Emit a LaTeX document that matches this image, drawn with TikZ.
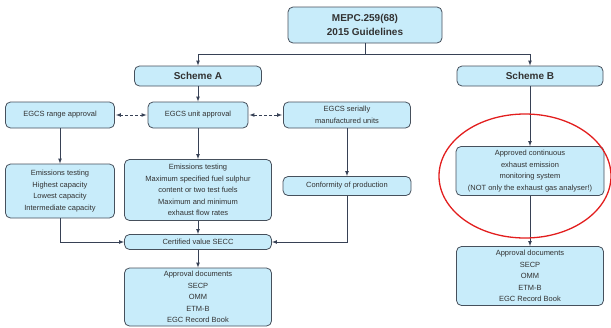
\documentclass[tikz,border=0pt]{standalone}
\usepackage{fontspec}
\setmainfont{Liberation Sans}
\usepackage{tikz}
\usetikzlibrary{arrows}
\definecolor{skyfill}{RGB}{200, 236, 250}
\definecolor{slateline}{RGB}{70, 80, 92}
\definecolor{navyline}{RGB}{55, 65, 85}
\definecolor{inkgray}{RGB}{50, 50, 50}
\definecolor{markred}{RGB}{226, 30, 30}

\begin{document}
\begin{tikzpicture}[x=1pt, y=-1pt,
        gbox/.style={draw=slateline, fill=skyfill, rounded corners=5pt, line width=0.8pt,
                     inner sep=0pt, align=center, text=inkgray,
                     font=\fontsize{7.5}{11.5}\selectfont},
        hbox/.style={gbox, font=\fontsize{10}{14}\selectfont\bfseries},
        link/.style={draw=navyline, line width=0.7pt},
        flow/.style={link, -latex},
        twin/.style={link, latex-latex, densely dashed, shorten >=1pt, shorten <=1pt}]
    \useasboundingbox (0,0) rectangle (611,327);
    \node[hbox, minimum width=154pt, minimum height=36pt] (mepc)   at (365, 25) {MEPC.259(68)\\2015 Guidelines};
    \node[hbox, minimum width=127pt, minimum height=20pt] (schemeA) at (198, 76) {Scheme A};
    \node[hbox, minimum width=146pt, minimum height=20pt] (schemeB) at (530, 76) {Scheme B};
    \node[gbox, minimum width=109pt, minimum height=26pt] (range)  at ( 60,115) {EGCS range approval};
    \node[gbox, minimum width=100pt, minimum height=26pt] (unit)   at (198,115) {EGCS unit approval};
    \node[gbox, minimum width=127pt, minimum height=26pt] (serial) at (347,115) {EGCS serially\\manufactured units};
    \node[gbox, minimum width=109pt, minimum height=54pt] (testL)  at ( 60,191) {Emissions testing\\Highest capacity\\Lowest capacity\\Intermediate capacity};
    \node[gbox, minimum width=147pt, minimum height=61pt] (testM)  at (198,190) {Emissions testing\\Maximum specified fuel sulphur\\content or two test fuels\\Maximum and minimum\\exhaust flow rates};
    \node[gbox, minimum width=128pt, minimum height=19pt] (conform) at (347,186) {Conformity of production};
    \node[gbox, minimum width=147pt, minimum height=15pt] (secc)   at (198,242) {Certified value SECC};
    \node[gbox, minimum width=147pt, minimum height=58pt] (docsA)  at (198,297) {Approval documents\\SECP\\OMM\\ETM-B\\EGC Record Book};
    \node[gbox, minimum width=148pt, minimum height=49pt] (cems)   at (530,171) {Approved continuous\\exhaust emission\\monitoring system\\(NOT only the exhaust gas analyser!)};
    \node[gbox, minimum width=147pt, minimum height=59pt] (docsB)  at (530,276) {Approval documents\\SECP\\OMM\\ETM-B\\EGC Record Book};
    \coordinate (split) at (365, 54);
    \draw[link] (mepc.south) -- (split);
    \draw[flow] (split) -| (schemeA.north);
    \draw[flow] (split) -| (schemeB.north);
    \draw[flow] (schemeA) -- (unit);
    \draw[twin] (range) -- (unit);
    \draw[twin] (unit) -- (serial);
    \draw[flow] (range) -- (testL);
    \draw[flow] (unit) -- (testM);
    \draw[flow] (serial.south -| conform.north) -- (conform.north);
    \draw[flow] (testL.south) |- (secc.west);
    \draw[flow] (conform.south) |- (secc.east);
    \draw[flow] (testM) -- (secc);
    \draw[flow] (secc) -- (docsA);
    \draw[flow] (schemeB) -- (cems);
    \draw[flow] (cems) -- (docsB);
    \draw[markred, line width=1.3pt] (525,176) ellipse (86 and 62);
\end{tikzpicture}
\end{document}
